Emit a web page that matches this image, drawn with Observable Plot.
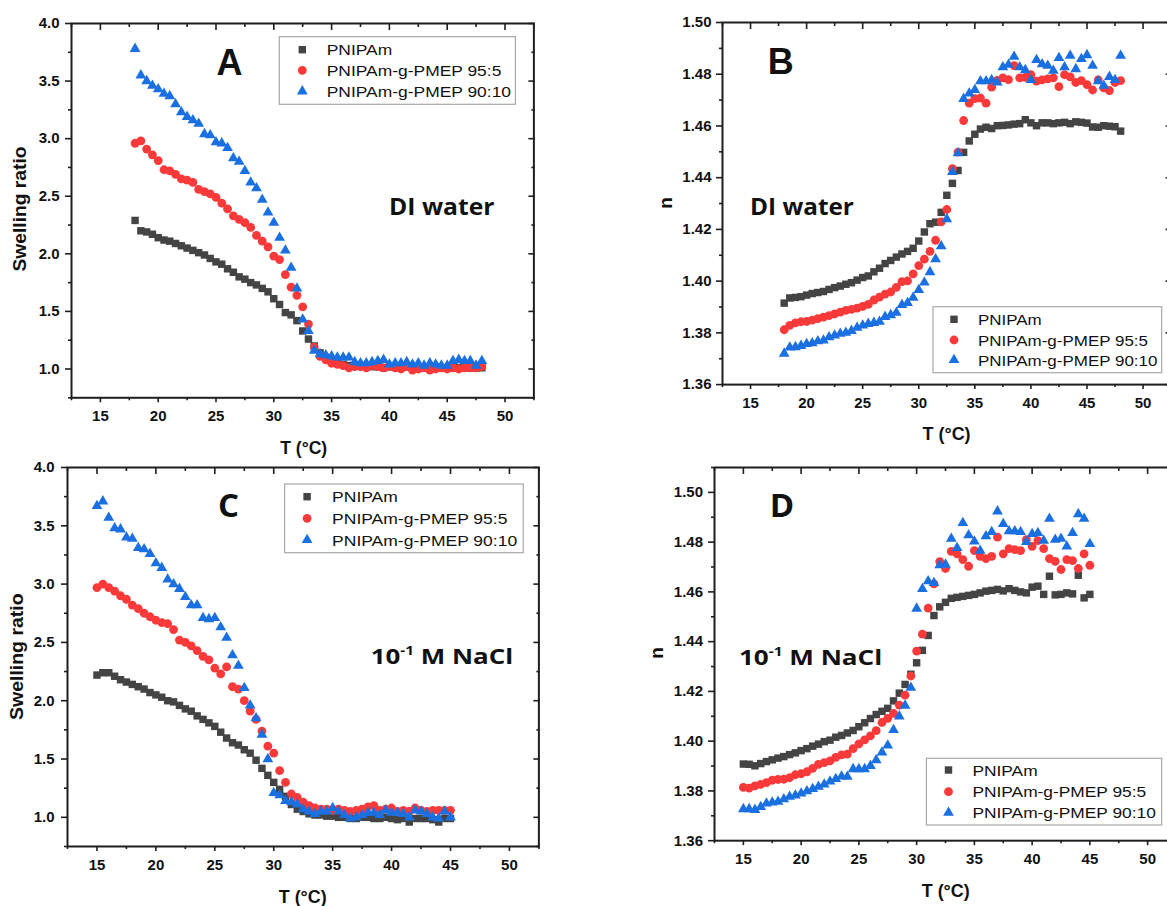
<!DOCTYPE html>
<html>
<head>
<meta charset="utf-8">
<script src="https://cdn.jsdelivr.net/npm/d3@7"></script>
<script src="https://cdn.jsdelivr.net/npm/@observablehq/plot@0.6"></script>
<style>
html, body { margin: 0; padding: 0; background: #fff; overflow: hidden; }
#root { position: relative; width: 1167px; height: 906px; overflow: hidden; background: #fff; }
</style>
</head>
<body>
<div id="root"></div>
<script>
// ---------------- data ----------------
const T_DI = [18,18.5,19,19.5,20,20.5,21,21.5,22,22.5,23,23.5,24,24.5,25,25.5,26,26.5,27,27.5,28,28.5,29,29.5,30,30.5,31,31.5,32,32.5,33,33.5,34,34.5,35,35.5,36,36.5,37,37.5,38,38.5,39,39.5,40,40.5,41,41.5,42,42.5,43,43.5,44,44.5,45,45.5,46,46.5,47,47.5,48];
const T_NaCl = [15,15.5,16,16.5,17,17.5,18,18.5,19,19.5,20,20.5,21,21.5,22,22.5,23,23.5,24,24.5,25,25.5,26,26.5,27,27.5,28,28.5,29,29.5,30,30.5,31,31.5,32,32.5,33,33.5,34,34.5,35,35.5,36,36.5,37,37.5,38,38.5,39,39.5,40,40.5,41,41.5,42,42.5,43,43.5,44,44.5,45];

const seriesNames = ["PNIPAm", "PNIPAm-g-PMEP 95:5", "PNIPAm-g-PMEP 90:10"];

// Panel A: swelling ratio, DI water
const A_PNIPAm = [2.29,2.20,2.19,2.17,2.14,2.12,2.11,2.09,2.07,2.05,2.03,2.01,1.99,1.96,1.93,1.91,1.87,1.84,1.80,1.78,1.75,1.73,1.70,1.67,1.61,1.56,1.49,1.47,1.42,1.33,1.26,1.20,1.14,1.10,1.07,1.05,1.04,1.03,1.03,1.03,1.02,1.02,1.02,1.01,1.02,1.02,1.01,1.02,1.02,1.01,1.01,1.01,1.02,1.01,1.01,1.01,1.01,1.01,1.01,1.01,1.01];
const A_95 = [2.96,2.98,2.91,2.86,2.81,2.73,2.72,2.69,2.65,2.64,2.62,2.56,2.54,2.52,2.49,2.44,2.39,2.33,2.30,2.27,2.23,2.16,2.11,2.06,1.98,1.95,1.82,1.71,1.64,1.54,1.39,1.19,1.11,1.08,1.05,1.04,1.03,1.01,1.02,1.02,1.01,1.03,1.02,1.01,1.02,1.01,1.00,1.02,0.99,1.00,1.01,0.99,1.00,1.01,1.00,1.01,1.00,1.01,1.01,1.01,1.02];
const A_90 = [3.78,3.55,3.50,3.46,3.43,3.39,3.37,3.30,3.23,3.19,3.16,3.13,3.04,3.03,2.97,2.96,2.92,2.83,2.80,2.72,2.62,2.57,2.47,2.36,2.27,2.14,2.03,1.88,1.70,1.43,1.33,1.16,1.13,1.12,1.11,1.10,1.10,1.10,1.06,1.05,1.05,1.06,1.07,1.08,1.04,1.05,1.05,1.06,1.04,1.05,1.03,1.05,1.04,1.03,1.03,1.07,1.08,1.07,1.07,1.03,1.07];

// Panel B: refractive index, DI water
const B_PNIPAm = [1.3915,1.3935,1.3937,1.394,1.3946,1.3952,1.3956,1.396,1.3968,1.3975,1.3981,1.3988,1.3994,1.4004,1.4014,1.402,1.4036,1.405,1.4068,1.408,1.4093,1.4105,1.4115,1.4127,1.4155,1.419,1.4222,1.4228,1.4266,1.4332,1.4378,1.4428,1.4498,1.4542,1.4568,1.4588,1.4595,1.459,1.4601,1.4602,1.4604,1.4607,1.4609,1.4624,1.4612,1.4601,1.4612,1.4612,1.4609,1.4612,1.4614,1.4609,1.4616,1.4614,1.4611,1.4596,1.4595,1.4601,1.4599,1.4597,1.458];
const B_95 = [1.3812,1.3829,1.3839,1.3843,1.3844,1.3849,1.3855,1.3861,1.3867,1.3873,1.388,1.3887,1.3891,1.3896,1.3902,1.391,1.3927,1.3938,1.395,1.3958,1.3976,1.3998,1.4001,1.4028,1.406,1.4085,1.4115,1.4158,1.4229,1.4277,1.4435,1.4499,1.4621,1.4688,1.4706,1.4708,1.4688,1.475,1.4776,1.4786,1.4779,1.4833,1.4786,1.4788,1.4798,1.4773,1.4778,1.4782,1.4786,1.4752,1.4798,1.479,1.4768,1.4775,1.476,1.4739,1.4778,1.4747,1.4737,1.4768,1.4775];
const B_90 = [1.372,1.3744,1.3745,1.375,1.3757,1.376,1.3768,1.3771,1.3783,1.379,1.3797,1.3801,1.3808,1.382,1.3829,1.3835,1.3839,1.3843,1.3862,1.3869,1.3878,1.3908,1.3916,1.3936,1.3966,1.3995,1.4035,1.4085,1.4135,1.424,1.4422,1.4495,1.4705,1.4726,1.4739,1.4773,1.4773,1.4778,1.4768,1.4827,1.4837,1.4868,1.4827,1.4816,1.4778,1.4855,1.4839,1.4833,1.4814,1.4863,1.4827,1.4872,1.482,1.4859,1.4874,1.4833,1.4773,1.4756,1.479,1.4778,1.4872];

// Panel C: swelling ratio, 0.1 M NaCl
const C_PNIPAm = [2.22,2.24,2.24,2.21,2.18,2.16,2.14,2.12,2.10,2.07,2.05,2.03,2.00,1.99,1.96,1.93,1.91,1.87,1.84,1.81,1.78,1.73,1.68,1.64,1.62,1.58,1.55,1.49,1.42,1.36,1.30,1.24,1.18,1.11,1.07,1.05,1.03,1.02,1.02,1.01,1.01,1.00,1.00,0.99,0.99,1.00,1.00,0.99,0.99,1.00,0.99,0.98,0.99,0.96,0.99,0.99,0.99,0.98,0.96,0.99,0.99];
const C_95 = [2.97,3.00,2.97,2.94,2.90,2.87,2.82,2.79,2.75,2.72,2.69,2.67,2.66,2.61,2.52,2.50,2.47,2.43,2.38,2.35,2.28,2.23,2.29,2.12,2.10,2.00,1.91,1.84,1.74,1.61,1.55,1.40,1.30,1.20,1.17,1.13,1.10,1.08,1.07,1.07,1.06,1.07,1.06,1.05,1.06,1.07,1.09,1.10,1.06,1.07,1.08,1.05,1.06,1.05,1.08,1.06,1.05,1.06,1.06,1.06,1.06];
const C_90 = [3.67,3.71,3.57,3.48,3.47,3.40,3.39,3.31,3.30,3.26,3.18,3.14,3.04,3.00,2.96,2.89,2.82,2.82,2.71,2.70,2.71,2.63,2.54,2.39,2.30,2.11,1.96,1.85,1.71,1.50,1.21,1.19,1.14,1.13,1.11,1.07,1.05,1.03,1.05,1.05,1.08,1.05,1.02,0.99,1.00,1.02,1.04,1.04,1.02,1.06,1.04,1.04,1.03,1.00,1.06,1.05,1.03,1.00,0.99,1.05,1.00];

// Panel D: refractive index, 0.1 M NaCl
const D_PNIPAm = [1.3908,1.3907,1.3901,1.391,1.3918,1.3925,1.3932,1.3938,1.3946,1.3953,1.3962,1.397,1.398,1.3988,1.3998,1.4004,1.4016,1.4023,1.4033,1.4043,1.4058,1.4074,1.4091,1.4107,1.412,1.4132,1.4162,1.4193,1.4228,1.4269,1.4315,1.4365,1.4425,1.4505,1.454,1.4558,1.4574,1.4578,1.4582,1.4586,1.459,1.4596,1.4603,1.4606,1.461,1.4604,1.4613,1.4606,1.46,1.4596,1.4619,1.4623,1.459,1.4663,1.4588,1.459,1.4596,1.4592,1.4667,1.4576,1.459];
const D_95 = [1.3814,1.3811,1.382,1.3826,1.3833,1.3843,1.3846,1.3847,1.3853,1.3865,1.3869,1.3877,1.3891,1.3907,1.3914,1.3921,1.3935,1.3945,1.3948,1.397,1.3989,1.4005,1.4021,1.4042,1.4075,1.4092,1.4112,1.4145,1.4185,1.4262,1.4362,1.443,1.4535,1.4632,1.4722,1.4694,1.4763,1.4753,1.473,1.4703,1.4766,1.4743,1.4734,1.4743,1.482,1.4753,1.4774,1.477,1.4766,1.481,1.4783,1.4806,1.4774,1.4734,1.4723,1.469,1.473,1.4726,1.4694,1.4753,1.4707];
const D_90 = [1.3727,1.3727,1.3724,1.3736,1.375,1.3754,1.3757,1.3767,1.3777,1.3782,1.379,1.3799,1.3808,1.3817,1.3826,1.3838,1.3848,1.3858,1.3857,1.3888,1.3888,1.3888,1.3901,1.3924,1.3955,1.3983,1.4045,1.41,1.4143,1.4215,1.4533,1.4612,1.4643,1.4636,1.4708,1.471,1.4814,1.4777,1.4877,1.4828,1.4803,1.4766,1.4824,1.4841,1.4924,1.4873,1.4844,1.4844,1.4841,1.4801,1.4833,1.4837,1.4806,1.4894,1.481,1.4814,1.4783,1.4837,1.4913,1.4894,1.4793];

// ticks
const X_MAJOR = [15,20,25,30,35,40,45,50];
const X_MINOR = [12.5,17.5,22.5,27.5,32.5,37.5,42.5,47.5,52.5];
const SR_MAJOR = [1.0,1.5,2.0,2.5,3.0,3.5,4.0];
const SR_MINOR = [0.75,1.25,1.75,2.25,2.75,3.25,3.75];
const N_MAJOR = [1.36,1.38,1.40,1.42,1.44,1.46,1.48,1.50];
const N_MINOR = [1.37,1.39,1.41,1.43,1.45,1.47,1.49,1.51];

// ---------------- styles ----------------
const ARIAL = "'Liberation Sans', Arial, Helvetica, sans-serif";
const OPEN = "'Open Sans', 'Noto Sans', sans-serif";
const INK = "#1e1e1e";
const SYMBOLS = [
  {name: seriesNames[0], symbol: "square", d3sym: d3.symbolSquare, r: 4.2, color: "#444444"},
  {name: seriesNames[1], symbol: "circle", d3sym: d3.symbolCircle, r: 4.4, color: "#fa3a3a"},
  {name: seriesNames[2], symbol: "triangle", d3sym: d3.symbolTriangle, r: 4.0, color: "#1a70e0"}
];

const root = document.getElementById("root");

function panel(cfg) {
  const M = 60;
  const [fx0, fx1, fy0, fy1] = cfg.frame;
  const width = fx1 - fx0 + 2 * M, height = fy1 - fy0 + 2 * M;
  const common = {stroke: INK, strokeWidth: 1.6, label: null, fontWeight: "bold", fontSize: 15, fill: "#111"};
  const blank = () => "";
  const plot = Plot.plot({
    width, height,
    marginLeft: M, marginRight: M, marginTop: M, marginBottom: M,
    x: {domain: cfg.xDomain},
    y: {domain: cfg.yDomain},
    style: {fontFamily: ARIAL, fontSize: "15px", fontWeight: "bold", color: "#111", background: "transparent", overflow: "visible"},
    marks: [
      ...cfg.values.map((vals, i) => Plot.dot(vals, {
        x: cfg.T, y: vals, symbol: SYMBOLS[i].symbol, r: SYMBOLS[i].r,
        fill: SYMBOLS[i].color, stroke: "none"
      })),
      Plot.frame({stroke: INK, strokeWidth: 2}),
      Plot.axisX(X_MAJOR, {...common, anchor: "bottom", tickSize: 5, tickPadding: 8, tickFormat: d => String(d)}),
      Plot.axisX(X_MINOR, {...common, anchor: "bottom", tickSize: 3, tickFormat: blank}),
      Plot.axisX(X_MAJOR, {...common, anchor: "top", tickSize: 6, dy: 6, tickFormat: blank}),
      Plot.axisX(X_MINOR, {...common, anchor: "top", tickSize: 3, dy: 3, tickFormat: blank}),
      Plot.axisY(cfg.yMajor, {...common, anchor: "left", tickSize: 6, tickPadding: cfg.yPad, tickFormat: d3.format(cfg.yFmt)}),
      Plot.axisY(cfg.yMinor, {...common, anchor: "left", tickSize: 3, tickFormat: blank}),
      Plot.axisY(cfg.yMajor, {...common, anchor: "right", tickSize: 6, dx: -6, tickFormat: blank}),
      Plot.axisY(cfg.yMinor, {...common, anchor: "right", tickSize: 3, dx: -3, tickFormat: blank})
    ]
  });
  plot.style.position = "absolute";
  plot.style.left = (fx0 - M) + "px";
  plot.style.top = (fy0 - M) + "px";
  plot.style.maxWidth = "none";
  root.appendChild(plot);
}

panel({frame: [71.1, 533.5, 23.3, 397.6], xDomain: [12.5, 52.5], yDomain: [0.75, 4.0], T: T_DI,
  values: [A_PNIPAm, A_95, A_90], yMajor: SR_MAJOR, yMinor: SR_MINOR, yFmt: ".1f", yPad: 6});
panel({frame: [722, 1170.6, 22.4, 384.5], xDomain: [12.5, 52.5], yDomain: [1.36, 1.50], T: T_DI,
  values: [B_PNIPAm, B_95, B_90], yMajor: N_MAJOR, yMinor: N_MINOR.slice(0, 7), yFmt: ".2f", yPad: 5});
panel({frame: [67, 538.4, 467.3, 846.3], xDomain: [12.5, 52.5], yDomain: [0.75, 4.0], T: T_NaCl,
  values: [C_PNIPAm, C_95, C_90], yMajor: SR_MAJOR, yMinor: SR_MINOR, yFmt: ".1f", yPad: 7});
panel({frame: [713.7, 1175.7, 466.8, 840], xDomain: [12.5, 52.5], yDomain: [1.36, 1.51], T: T_NaCl,
  values: [D_PNIPAm, D_95, D_90], yMajor: N_MAJOR, yMinor: N_MINOR, yFmt: ".2f", yPad: 5.5});

// ---------------- overlay: legends, labels, titles ----------------
const ov = d3.select(root).append("svg")
  .attr("width", 1167).attr("height", 906)
  .style("position", "absolute").style("left", "0px").style("top", "0px");

function fitX(sel, target) {
  const w = sel.node().getComputedTextLength();
  return w > 0 ? target / w : 1;
}

function legend(box, rows, mx, tx, stretch) {
  const [x0, y0, x1, y1] = box;
  ov.append("rect").attr("x", x0).attr("y", y0).attr("width", x1 - x0).attr("height", y1 - y0)
    .attr("fill", "#fff").attr("stroke", "#a8a8a8").attr("stroke-width", 1.2);
  SYMBOLS.forEach((s, i) => {
    ov.append("path")
      .attr("d", d3.symbol(s.d3sym, Math.PI * s.r * s.r)())
      .attr("transform", `translate(${mx},${rows[i]})`)
      .attr("fill", s.color);
    ov.append("text").text(s.name)
      .attr("transform", `translate(${tx},${rows[i] + 5.6}) scale(${stretch},1)`)
      .attr("font-family", ARIAL).attr("font-size", 15.5).attr("fill", "#111");
  });
}
legend([279.3, 36.7, 515.4, 104.3], [49.7, 70.3, 91.3], 302.3, 326.7, 1.125);
legend([933, 306.7, 1161.7, 372.7], [319.3, 340, 360], 954, 977.9, 1.095);
legend([284.6, 484, 523.2, 552.7], [496.7, 518.3, 540], 307.1, 332.1, 1.13);
legend([926.4, 758.3, 1161.7, 825], [770, 791.7, 812.7], 948.5, 972.4, 1.12);

// panel letters
[["A", 229.5, 75, ARIAL, 36], ["B", 780.7, 74, ARIAL, 36], ["C", 228.6, 516.7, OPEN, 33], ["D", 782, 516.7, OPEN, 33]]
  .forEach(([t, x, y, f, s]) => {
    ov.append("text").text(t).attr("x", x).attr("y", y).attr("text-anchor", "middle")
      .attr("font-family", f).attr("font-size", s).attr("font-weight", "bold").attr("fill", "#111");
  });

// medium annotations
function annot(x, y, target, build) {
  const t = ov.append("text").attr("font-family", OPEN).attr("font-weight", "bold").attr("fill", "#111");
  build(t);
  const k = fitX(t, target);
  t.attr("transform", `translate(${x},${y}) scale(${k},1)`);
}
annot(389, 215, 105.6, t => t.attr("font-size", 24).text("DI water"));
annot(750, 215, 104, t => t.attr("font-size", 24).text("DI water"));
function nacl(t) {
  t.attr("font-size", 22);
  t.append("tspan").text("10");
  t.append("tspan").attr("font-size", 13).attr("dy", -9).text("-1");
  t.append("tspan").attr("dy", 9).text(" M NaCl");
}
annot(370.7, 664, 142.6, nacl);
annot(738.9, 664.5, 143.4, nacl);

// axis titles
function title(text, x, y, rot, size, target) {
  const t = ov.append("text").text(text).attr("text-anchor", "middle")
    .attr("font-family", ARIAL).attr("font-size", size).attr("font-weight", "bold").attr("fill", "#111");
  const k = target ? fitX(t, target) : 1;
  t.attr("transform", `translate(${x},${y}) rotate(${rot}) scale(${k},1)`);
}
title("Swelling ratio", 26.4, 209, -90, 19, 125);
title("Swelling ratio", 22.8, 656.7, -90, 19, 126.7);
title("n", 672.1, 203, -90, 19);
title("n", 662.9, 653, -90, 19);
title("T (°C)", 303.7, 453.8, 0, 19, 47);
title("T (°C)", 946.6, 440.3, 0, 19, 48);
title("T (°C)", 302.7, 903, 0, 19, 48);
title("T (°C)", 945.7, 897, 0, 19, 48);
</script>
</body>
</html>
